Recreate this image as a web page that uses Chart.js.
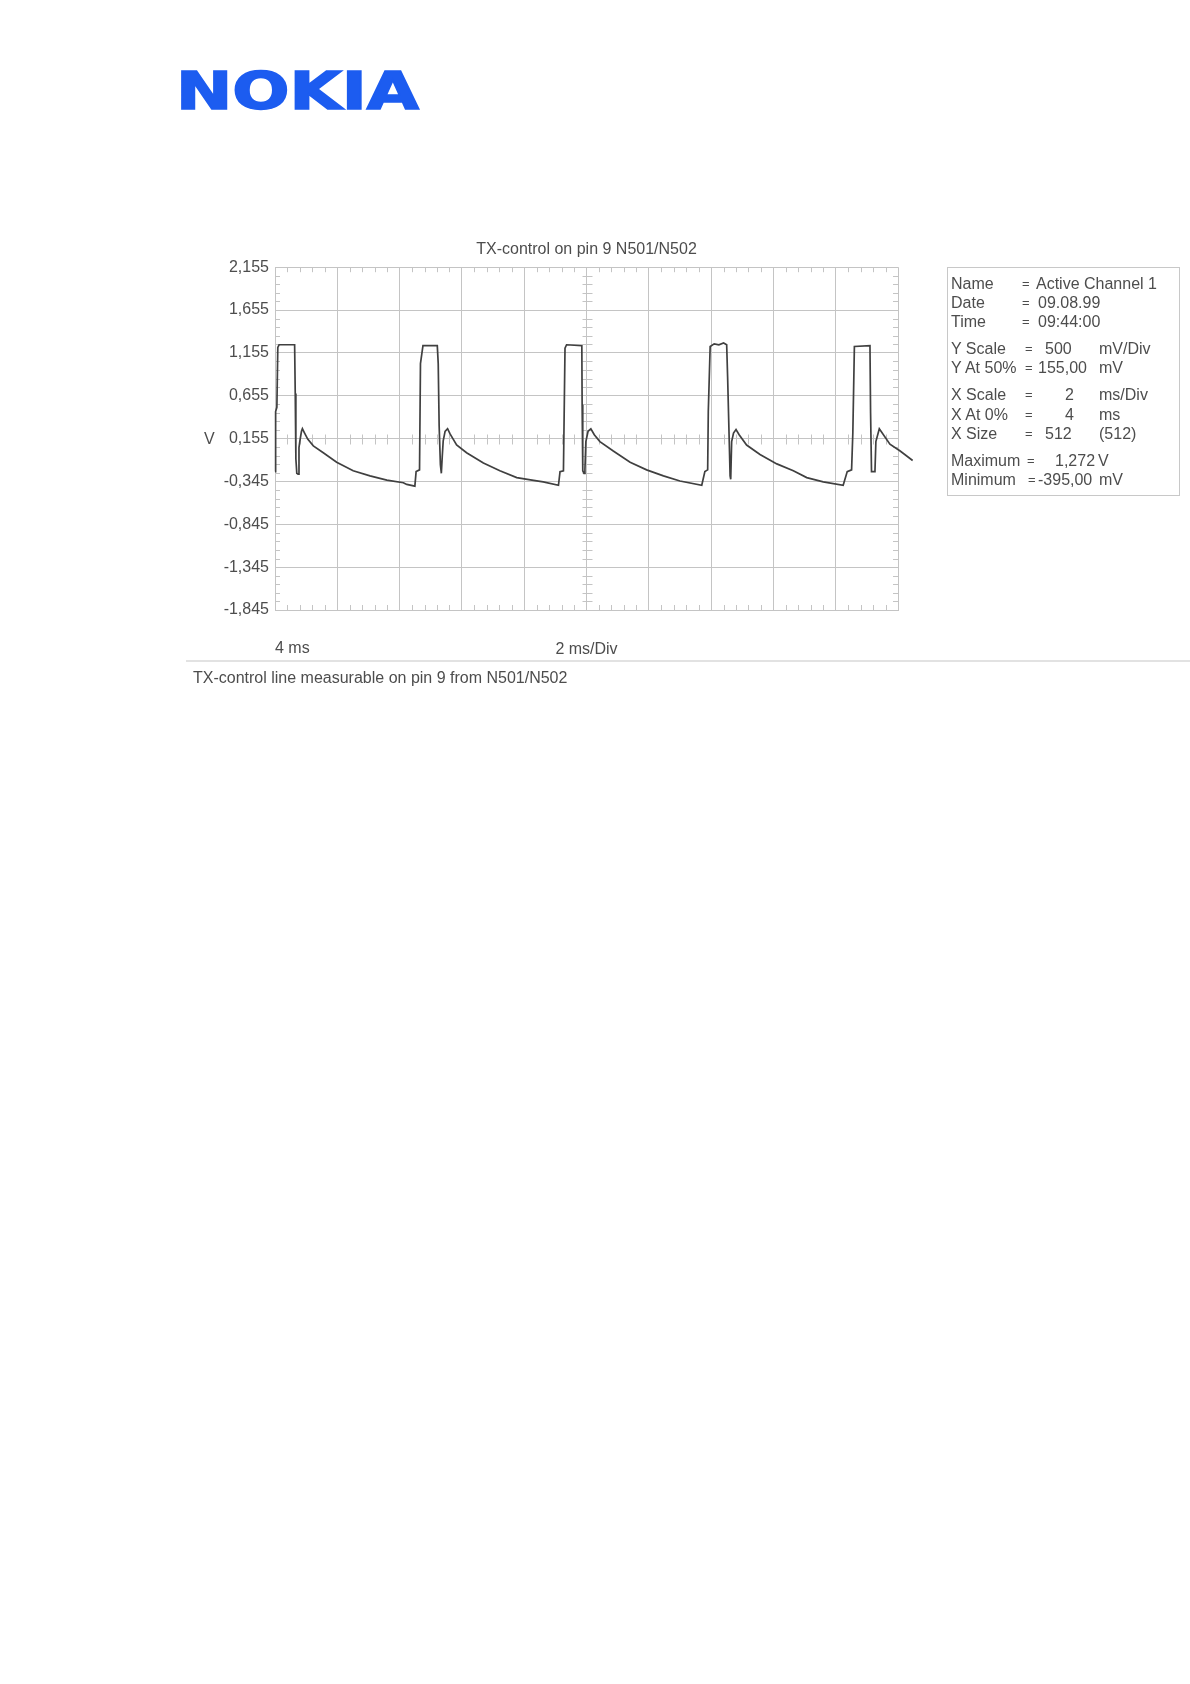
<!DOCTYPE html>
<html>
<head>
<meta charset="utf-8">
<title>TX-control on pin 9 N501/N502</title>
<script src="https://cdn.jsdelivr.net/npm/chart.js@4.4.0/dist/chart.umd.min.js"></script>
<style>
  body { margin: 0; background: #fff; font-family: 'Liberation Sans', Arial, sans-serif; color: #4d4d4d; }
  #page { position: relative; width: 1190px; height: 1684px; overflow: hidden; }
  #scope { position: absolute; left: 0; top: 0; }
  .t { position: absolute; font-size: 16px; line-height: 18px; white-space: nowrap; }
  .eq { font-size: 13px; }
  #logo { position: absolute; left: 176px; top: 60px; }
  #info { position: absolute; left: 947px; top: 267px; width: 233px; height: 229px; border: 1px solid #c8c8c8; box-sizing: border-box; }
  #rule { position: absolute; left: 186px; top: 660px; width: 1004px; height: 2px; background: #e2e2e2; }
</style>
</head>
<body>
<div id="page">
  <svg id="logo" width="250" height="60">
    <text x="0" y="49" textLength="243" lengthAdjust="spacingAndGlyphs" font-family="DejaVu Sans" font-weight="bold" font-size="51" fill="#1c5cf0" stroke="#1c5cf0" stroke-width="1.6">NOKIA</text>
  </svg>
  <canvas id="scope" width="1190" height="700"></canvas>
  <div class="t" style="left:204px; top:430px;">V</div>
  <div id="info"></div>
  <div id="rule"></div>
  <div class="t" style="left:193px; top:669px;">TX-control line measurable on pin 9 from N501/N502</div>
</div>
<script>
const timeMs = [
  4.00, 4.02, 4.06, 4.09, 4.13, 4.63, 4.65, 4.67, 4.70, 4.74, 4.77, 4.80, 4.85, 4.88, 4.95, 5.05, 5.23, 5.55, 5.98, 6.51, 7.05, 7.59, 8.12,
  8.23, 8.49, 8.53, 8.64, 8.67, 8.75, 9.21, 9.24, 9.27, 9.31, 9.34, 9.37, 9.40, 9.46, 9.54, 9.62, 9.83, 10.15, 10.69, 11.22, 11.76, 12.25,
  12.61, 13.10, 13.15, 13.26, 13.31, 13.36, 13.85, 13.86, 13.88, 13.92, 13.95, 13.98, 14.05, 14.14, 14.25, 14.43, 14.86, 15.40, 15.93, 16.47,
  17.00, 17.70, 17.80, 17.89, 17.91, 17.97, 18.10, 18.25, 18.40, 18.50, 18.53, 18.58, 18.61, 18.63, 18.66, 18.72, 18.80, 18.90, 19.14, 19.57, 20.11, 20.64,
  21.07, 21.60, 22.24, 22.37, 22.51, 22.55, 22.60, 23.10, 23.12, 23.15, 23.26, 23.29, 23.40, 23.74, 24.07, 24.47
];
const volts = [
  -0.23, 0.47, 0.52, 1.22, 1.25, 1.25, 0.68, -0.08, -0.25, -0.26, 0.05, 0.13, 0.24, 0.27, 0.22, 0.15, 0.07, -0.01, -0.12, -0.22, -0.28, -0.33, -0.36,
  -0.38, -0.40, -0.23, -0.21, 1.03, 1.24, 1.24, 1.03, 0.30, -0.15, -0.25, -0.05, 0.13, 0.24, 0.27, 0.21, 0.08, -0.01, -0.13, -0.22, -0.30, -0.33,
  -0.35, -0.39, -0.23, -0.22, 1.21, 1.25, 1.24, 0.55, -0.22, -0.25, -0.20, 0.12, 0.24, 0.27, 0.20, 0.12, 0.01, -0.12, -0.21, -0.28,
  -0.34, -0.39, -0.23, -0.21, 0.47, 1.23, 1.26, 1.25, 1.27, 1.25, 0.88, 0.16, -0.28, -0.32, 0.12, 0.22, 0.26, 0.20, 0.08, -0.03, -0.14, -0.22,
  -0.30, -0.35, -0.39, -0.23, -0.21, 0.22, 1.23, 1.24, 0.45, -0.23, -0.23, 0.12, 0.27, 0.09, 0.01, -0.10
];
const xTicks = [4, 6, 8, 10, 12, 14, 16, 18, 20, 22, 24];
const yTicks = [-1.845, -1.345, -0.845, -0.345, 0.155, 0.655, 1.155, 1.655, 2.155];

const infoRows = [
  ['Name', '=', 'Active Channel 1', ''],
  ['Date', '=', '09.08.99', ''],
  ['Time', '=', '09:44:00', ''],
  ['Y Scale', '=', '500', 'mV/Div'],
  ['Y At 50%', '=', '155,00', 'mV'],
  ['X Scale', '=', '2', 'ms/Div'],
  ['X At 0%', '=', '4', 'ms'],
  ['X Size', '=', '512', '(512)'],
  ['Maximum', '=', '1,272', 'V'],
  ['Minimum', '=', '-395,00', 'mV']
];
const rowY = [284, 303, 322, 349, 368, 395, 415, 434, 461, 480];
const eqX = [1022, 1022, 1022, 1025, 1025, 1025, 1025, 1025, 1027, 1028];
const valX = [1036, 1038, 1038, 1045, 1038, 1065, 1065, 1045, 1055, 1038];
const unitX = [0, 0, 0, 1099, 1099, 1099, 1099, 1099, 1098, 1099];

const info = document.getElementById('info');
infoRows.forEach((r, i) => {
  const cells = [[r[0], 951, ''], [r[1], eqX[i], 'eq'], [r[2], valX[i], ''], [r[3], unitX[i], '']];
  cells.forEach(([txt, x, cls]) => {
    if (!txt) return;
    const d = document.createElement('div');
    d.className = 't ' + cls;
    d.textContent = txt;
    d.style.left = (x - 948) + 'px';
    d.style.top = (rowY[i] - 9 - 268) + 'px';
    info.appendChild(d);
  });
});

const gridColour = '#c4c4c4';
const textColour = '#4d4d4d';
const fmt = v => v.toFixed(3).replace('.', ',');

// small scope-style subdivision ticks on the frame and on the centre cross
const minorTicks = {
  id: 'minorTicks',
  beforeDatasetsDraw(chart) {
    const { ctx, chartArea: a, scales: { x, y } } = chart;
    const len = 5;
    const xc = Math.round(x.getPixelForValue(xTicks[5]));
    const yc = Math.round(y.getPixelForValue(yTicks[4]));
    ctx.save();
    ctx.strokeStyle = gridColour;
    ctx.lineWidth = 1;
    ctx.beginPath();
    for (let i = 0; i < xTicks.length - 1; i++) {
      for (let k = 1; k < 5; k++) {
        const px = Math.round(x.getPixelForValue(xTicks[i] + (xTicks[i + 1] - xTicks[i]) * k / 5)) + 0.5;
        ctx.moveTo(px, a.top); ctx.lineTo(px, a.top + len);
        ctx.moveTo(px, a.bottom); ctx.lineTo(px, a.bottom - len);
        ctx.moveTo(px, yc - len + 0.5); ctx.lineTo(px, yc + len + 0.5);
      }
    }
    for (let i = 0; i < yTicks.length - 1; i++) {
      for (let k = 1; k < 5; k++) {
        const py = Math.round(y.getPixelForValue(yTicks[i] + (yTicks[i + 1] - yTicks[i]) * k / 5)) + 0.5;
        ctx.moveTo(a.left, py); ctx.lineTo(a.left + len, py);
        ctx.moveTo(a.right, py); ctx.lineTo(a.right - len, py);
        ctx.moveTo(xc - len + 0.5, py); ctx.lineTo(xc + len + 0.5, py);
      }
    }
    ctx.stroke();
    ctx.restore();
  }
};

new Chart(document.getElementById('scope'), {
  type: 'line',
  data: {
    datasets: [{
      data: timeMs.map((t, i) => ({ x: t, y: volts[i] })),
      borderColor: '#404040',
      borderWidth: 1.7,
      pointRadius: 0,
      tension: 0,
      clip: false
    }]
  },
  options: {
    responsive: false,
    devicePixelRatio: 1,
    animation: false,
    layout: { padding: { top: 240, right: 292, bottom: 30, left: 0 } },
    plugins: {
      legend: { display: false },
      tooltip: { enabled: false },
      title: {
        display: true,
        fullSize: false,
        text: 'TX-control on pin 9 N501/N502',
        color: textColour,
        font: { family: "'Liberation Sans', Arial, sans-serif", size: 16, weight: 'normal' },
        padding: { top: 0, bottom: 8 }
      }
    },
    scales: {
      x: {
        type: 'linear',
        bounds: 'data',
        // set the range here rather than via min/max so the trace past 24 ms is still drawn
        afterDataLimits: s => { s.min = xTicks[0]; s.max = xTicks[xTicks.length - 1]; },
        afterBuildTicks: s => { s.ticks = xTicks.map(v => ({ value: v })); },
        afterFit: s => { s.height = 60; },
        grid: { color: gridColour, drawTicks: false },
        border: { color: gridColour },
        ticks: {
          autoSkip: false,
          maxRotation: 0,
          align: 'start',
          padding: 29,
          color: textColour,
          font: { family: "'Liberation Sans', Arial, sans-serif", size: 16 },
          callback: v => (v === xTicks[0] ? '4 ms' : '')
        },
        title: {
          display: true,
          text: '2 ms/Div',
          color: textColour,
          font: { family: "'Liberation Sans', Arial, sans-serif", size: 16 },
          padding: { top: 0, bottom: 11 }
        }
      },
      y: {
        min: yTicks[0],
        max: yTicks[yTicks.length - 1],
        afterBuildTicks: s => { s.ticks = yTicks.map(v => ({ value: v })); },
        afterFit: s => { s.width = 275; },
        grid: { color: gridColour, drawTicks: false },
        border: { color: gridColour },
        ticks: {
          autoSkip: false,
          padding: 6,
          color: textColour,
          font: { family: "'Liberation Sans', Arial, sans-serif", size: 16 },
          callback: v => fmt(v)
        }
      }
    }
  },
  plugins: [minorTicks]
});
</script>
</body>
</html>
